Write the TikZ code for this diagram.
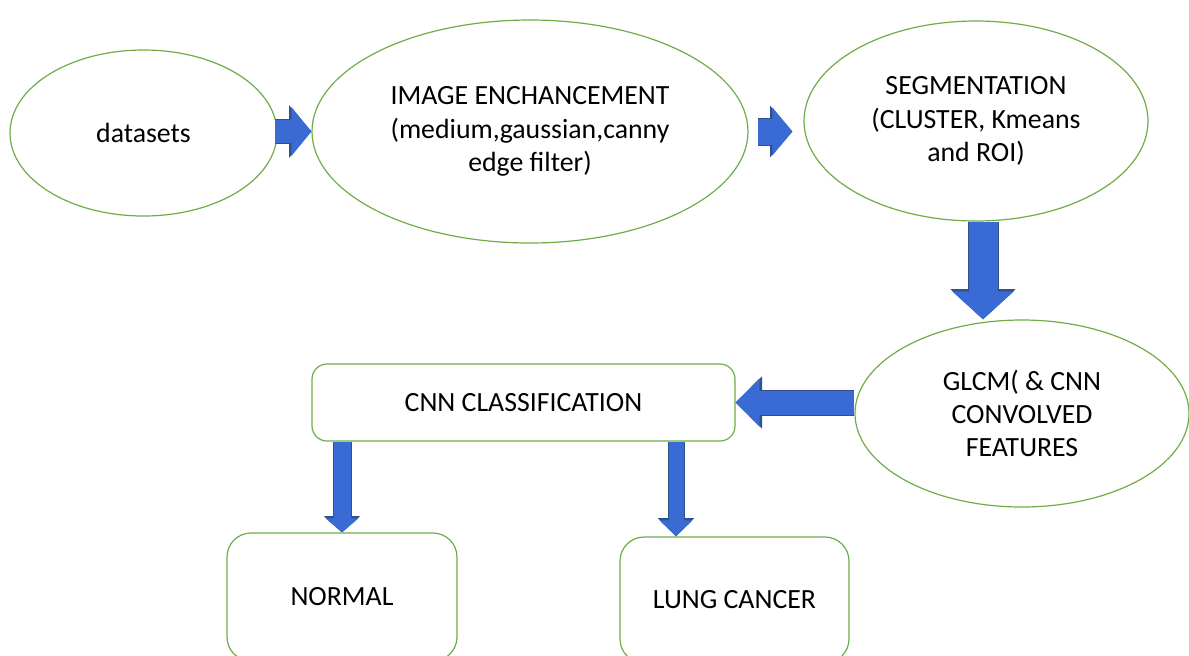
\documentclass[tikz,border=0pt]{standalone}
\usepackage{fontspec}
\setmainfont{Carlito}
\usetikzlibrary{arrows.meta, shapes.geometric}

\definecolor{stepgreen}{RGB}{112,173,71}
\definecolor{flowblue}{RGB}{58,106,212}
\definecolor{flowedge}{RGB}{47,82,143}

\tikzset{
  stage/.style={ellipse, draw=stepgreen, line width=0.6pt, inner sep=0pt, align=center,
    font=\fontsize{13.9}{16.7}\selectfont},
  result/.style={rectangle, rounded corners=#1, draw=stepgreen, line width=0.6pt, inner sep=0pt,
    align=center, font=\fontsize{13.9}{16.7}\selectfont},
  flow/.style n args={3}{draw=flowblue, line width=#1, -{Triangle[length=#3, width=#2]},
    preaction={draw=flowedge, line width=#1+1pt, -{Triangle[length=#3+1.2pt, width=#2+1.8pt]}}}
}

\begin{document}
\begin{tikzpicture}[x=0.5pt, y=-0.5pt]
\path[use as bounding box, fill=white] (0,0) rectangle (1189,655);
\clip (0,0) rectangle (1189,655);

%stages
\node[stage, minimum width=133.5pt, minimum height=83pt] (dat) at (143.5,133) {datasets};
\node[stage, minimum width=218pt, minimum height=111.5pt] (enh) at (530,131.5)
  {IMAGE ENCHANCEMENT\\(medium,gaussian,canny\\edge filter)};
\node[stage, minimum width=172pt, minimum height=100pt] (seg) at (976,121)
  {SEGMENTATION\\(CLUSTER, Kmeans\\and ROI)};
\node[stage, minimum width=167pt, minimum height=93.5pt] (glcm) at (1022,413.5)
  {GLCM( \& CNN\\CONVOLVED\\FEATURES};

%classification
\node[result=7.5pt, minimum width=211.5pt, minimum height=38.5pt] (cnn) at (523.5,402.5) {CNN CLASSIFICATION};
\node[result=12pt, minimum width=115pt, minimum height=64pt] (normal) at (342,597) {NORMAL};
\node[result=12pt, minimum width=114.5pt, minimum height=63pt] (lung) at (734.5,600) {LUNG CANCER};

%arrows
\coordinate (lungin) at ([xshift=-29.25pt]lung.north);
\coordinate (segout) at ([xshift=3.5pt]seg.south);
\draw[flow={11.5pt}{24pt}{10pt}] ([xshift=-1.5pt]enh.west -| dat.east) -- (enh.west);
\draw[flow={13pt}{23.5pt}{10pt}] ([xshift=4.5pt]enh.east) -- ([xshift=-5.5pt]enh.east -| seg.west);
\draw[flow={14.5pt}{30pt}{14pt}] (segout) -- (segout |- glcm.north);
\draw[flow={12pt}{23.5pt}{12pt}] (cnn.east -| glcm.west) -- (cnn.east);
\draw[flow={8.5pt}{16pt}{7pt}] (normal.north |- cnn.south) -- (normal.north);
\draw[flow={7.5pt}{16pt}{8pt}] (lungin |- cnn.south) -- (lungin);

\end{tikzpicture}
\end{document}
